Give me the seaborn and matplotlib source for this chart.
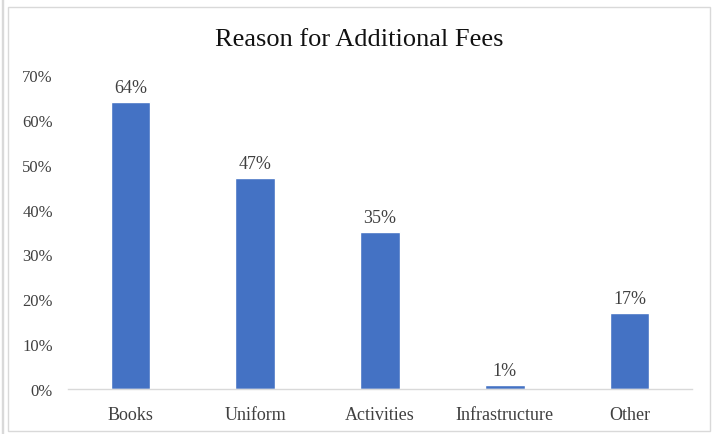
import numpy as np
import pandas as pd
import seaborn as sns
import matplotlib.pyplot as plt
from matplotlib.patches import Rectangle
from matplotlib.ticker import PercentFormatter

# Chart data
categories = ["Books", "Uniform", "Activities", "Infrastructure", "Other"]
shares = [0.64, 0.47, 0.35, 0.01, 0.17]
y_ticks = [0.0, 0.1, 0.2, 0.3, 0.4, 0.5, 0.6, 0.7]

df = pd.DataFrame({"Reason": categories, "Share": shares})

sns.set_theme(style="white")
plt.rcParams['font.family'] = ['Liberation Serif', 'DejaVu Serif']

fig = plt.figure(figsize=(7.17, 4.35), dpi=100)
ax = fig.add_axes([0.095, 0.1034, 0.87, 0.7218])

sns.barplot(data=df, x="Reason", y="Share", color="#4472C4", saturation=1,
            width=0.32, ax=ax)

ax.set_ylim(0, 0.7)
ax.set_yticks(y_ticks)
ax.yaxis.set_major_formatter(PercentFormatter(1.0, decimals=0))
ax.set_xlim(-0.5, len(categories) - 0.5)
ax.set_xlabel("")
ax.set_ylabel("")
ax.tick_params(axis='y', labelsize=12, colors='#404040', length=0, pad=11)
ax.tick_params(axis='x', labelsize=13, colors='#404040', length=0, pad=12)

for side in ["top", "right", "left"]:
    ax.spines[side].set_visible(False)
ax.spines["bottom"].set_color("#D9D9D9")
ax.spines["bottom"].set_linewidth(1)

for i, v in enumerate(shares):
    ax.text(i, v + 0.013, f"{v * 100:.0f}%", ha='center', va='bottom',
            fontsize=13, color='#404040')

fig.text(0.5007, 0.908, "Reason for Additional Fees", ha='center', va='center',
         fontsize=19, color='#111111')

# Chart border
fig.patches.append(Rectangle((8 / 717, 3 / 435), 702 / 717, 424 / 435,
                             transform=fig.transFigure, fill=False,
                             edgecolor='#D9D9D9', linewidth=1))
fig.patches.append(Rectangle((2 / 717, 0), 0.001, 1, transform=fig.transFigure,
                             fill=False, edgecolor='#D9D9D9', linewidth=1))

fig.savefig("out.png", dpi=100)
